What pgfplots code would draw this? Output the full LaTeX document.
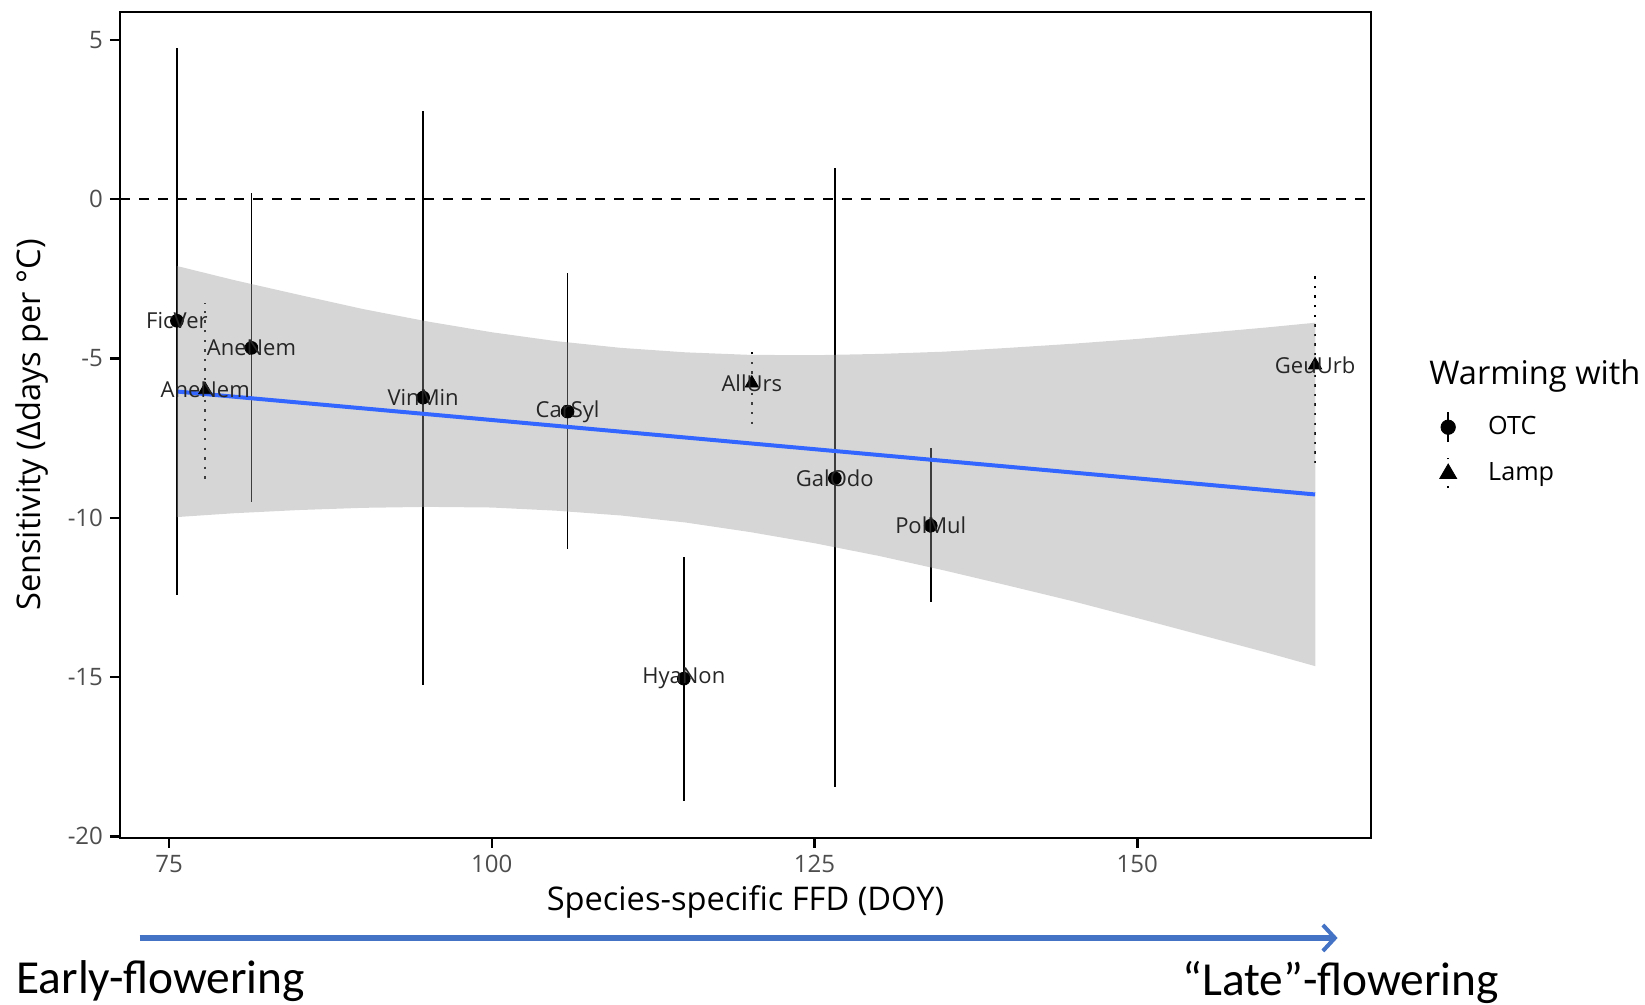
\documentclass[border=0pt]{standalone}
\usepackage{fontspec}
\setmainfont{Open Sans}
\newfontfamily\calib{Carlito}
\usepackage{pgfplots}
\pgfplotsset{compat=1.18}
\usepackage{pgfplotstable}
\usetikzlibrary{arrows.meta}
\definecolor{grey30}{HTML}{4D4D4D}
\definecolor{smoothblue}{HTML}{3366FF}
\definecolor{bandgrey}{HTML}{999999}
\definecolor{officeblue}{HTML}{4472C4}

% warming with open-top chambers
\pgfplotstableread{
x y lo hi lab
75.61 -3.82 -12.43 4.73 FicVer
81.38 -4.67 -9.50 0.20 AneNem
94.68 -6.23 -15.25 2.77 VinMin
105.87 -6.67 -10.99 -2.31 CarSyl
114.87 -15.05 -18.89 -11.24 HyaNon
126.57 -8.76 -18.46 0.98 GalOdo
134.00 -10.25 -12.64 -7.82 PolMul
}\otc
% warming with lamps
\pgfplotstableread{
x y lo hi lab
77.80 -5.99 -8.97 -3.27 AneNem
120.14 -5.78 -7.23 -4.79 AllUrs
163.77 -5.21 -8.29 -2.28 GeuUrb
}\lamp

\begin{document}
\begin{tikzpicture}
\useasboundingbox (-60pt,-83.5pt) rectangle (762.5pt,419pt);
\begin{axis}[
  at={(0,0)}, anchor=south west,
  scale only axis, width=625.5pt, height=413pt,
  xmin=71.2, xmax=168.1, ymin=-20.05, ymax=5.87,
  axis line style={line width=1pt},
  tick align=outside, tick pos=left,
  major tick length=5pt,
  every tick/.style={black, line width=1.2pt},
  xtick={75,100,125,150}, xticklabels={75,100,125,150},
  ytick={-20,-15,-10,-5,0,5}, yticklabels={-20,-15,-10,-5,0,5},
  ticklabel style={font=\fontsize{12}{14}\selectfont, text=grey30},
  xlabel={Species-specific FFD (DOY)},
  ylabel={Sensitivity (Δdays per °C)},
  every axis x label/.style={at={(axis description cs:0.5,-0.0775)}, anchor=center,
    font=\fontsize{16.3}{19}\selectfont},
  every axis y label/.style={at={(axis description cs:-0.0707,0.5)}, rotate=90, anchor=center,
    font=\fontsize{16.3}{19}\selectfont},
  legend style={draw=none, fill=none, at={(axis description cs:1.047,0.522)}, anchor=north west,
    font=\fontsize{12.6}{15}\selectfont, row sep=7pt},
  legend cell align=left,
]
\addplot[black, line width=1pt, dash pattern=on 5pt off 4.5pt, forget plot]
  coordinates {(71.2,0) (168.1,0)};

\addplot[only marks, mark=*, mark size=3.2pt, black,
  legend image code/.code={\draw[draw=none] (0pt,0pt) -- (24pt,0pt);
    \draw[line width=1pt] (6pt,-7.5pt) -- (6pt,7.5pt); \fill (6pt,0pt) circle (3.6pt);},
  error bars/.cd, y dir=both, y explicit, error mark=none,
  error bar style={line width=0.9pt, black},
  ] table[x=x, y=y, y error plus expr=\thisrow{hi}-\thisrow{y}, y error minus expr=\thisrow{y}-\thisrow{lo}] {\otc};
\addplot[only marks, mark=triangle*, mark size=3.8pt, black,
  legend image code/.code={\draw[draw=none] (0pt,0pt) -- (24pt,0pt);
    \draw[line width=1pt, dash pattern=on 1.2pt off 3.6pt] (6pt,-7.5pt) -- (6pt,7.5pt);
    \fill (1.8pt,-2.6pt) -- (10.2pt,-2.6pt) -- (6pt,4.6pt) -- cycle;},
  error bars/.cd, y dir=both, y explicit, error mark=none,
  error bar style={line width=0.9pt, black, dash pattern=on 1.2pt off 3.6pt},
  ] table[x=x, y=y, y error plus expr=\thisrow{hi}-\thisrow{y}, y error minus expr=\thisrow{y}-\thisrow{lo}] {\lamp};

% confidence band of the linear fit
\addplot[fill=bandgrey, fill opacity=0.4, draw=none, forget plot] coordinates {
(75.6,-2.10) (80,-2.54) (85,-3.00) (90,-3.45) (95,-3.84) (100,-4.18) (105,-4.46)
(110,-4.67) (115,-4.81) (120,-4.89) (125,-4.90) (130,-4.86) (135,-4.79) (140,-4.67)
(145,-4.54) (150,-4.39) (155,-4.21) (160,-4.03) (163.8,-3.88)
(163.8,-14.66) (160,-14.23) (155,-13.69) (150,-13.15) (145,-12.62) (140,-12.13)
(135,-11.65) (130,-11.20) (125,-10.80) (120,-10.45) (115,-10.15) (110,-9.93)
(105,-9.78) (100,-9.68) (95,-9.66) (90,-9.69) (85,-9.76) (80,-9.86) (75.6,-9.98)};
\addplot[smoothblue, line width=2pt, forget plot] coordinates {(75.61,-6.04) (163.77,-9.27)};

% species labels
\addplot[draw=none, mark=none, forget plot, point meta=explicit symbolic,
  nodes near coords, every node near coord/.style={anchor=center, font=\fontsize{11}{13}\selectfont, text=black!85, inner sep=0pt}]
  table[x=x, y=y, meta=lab] {\otc};
\addplot[draw=none, mark=none, forget plot, point meta=explicit symbolic,
  nodes near coords, every node near coord/.style={anchor=center, font=\fontsize{11}{13}\selectfont, text=black!85, inner sep=0pt}]
  table[x=x, y=y, meta=lab] {\lamp};
\legend{OTC, Lamp}
\end{axis}
\node[anchor=west, inner sep=0pt, font=\fontsize{16.3}{19}\selectfont] at (654.5pt,231pt) {Warming with};
\draw[officeblue, line width=2.6pt, -{Straight Barb[length=6pt, width=13pt, line width=2pt]}] (9.75pt,-50pt) -- (608.8pt,-50pt);
\node[anchor=base west, inner sep=0pt, font=\calib\fontsize{23.7}{27}\selectfont] at (-52pt,-78pt) {Early-flowering};
\node[anchor=base west, inner sep=0pt, font=\calib\fontsize{23.7}{27}\selectfont] at (531pt,-79pt) {“Late”-flowering};
\end{tikzpicture}
\end{document}
